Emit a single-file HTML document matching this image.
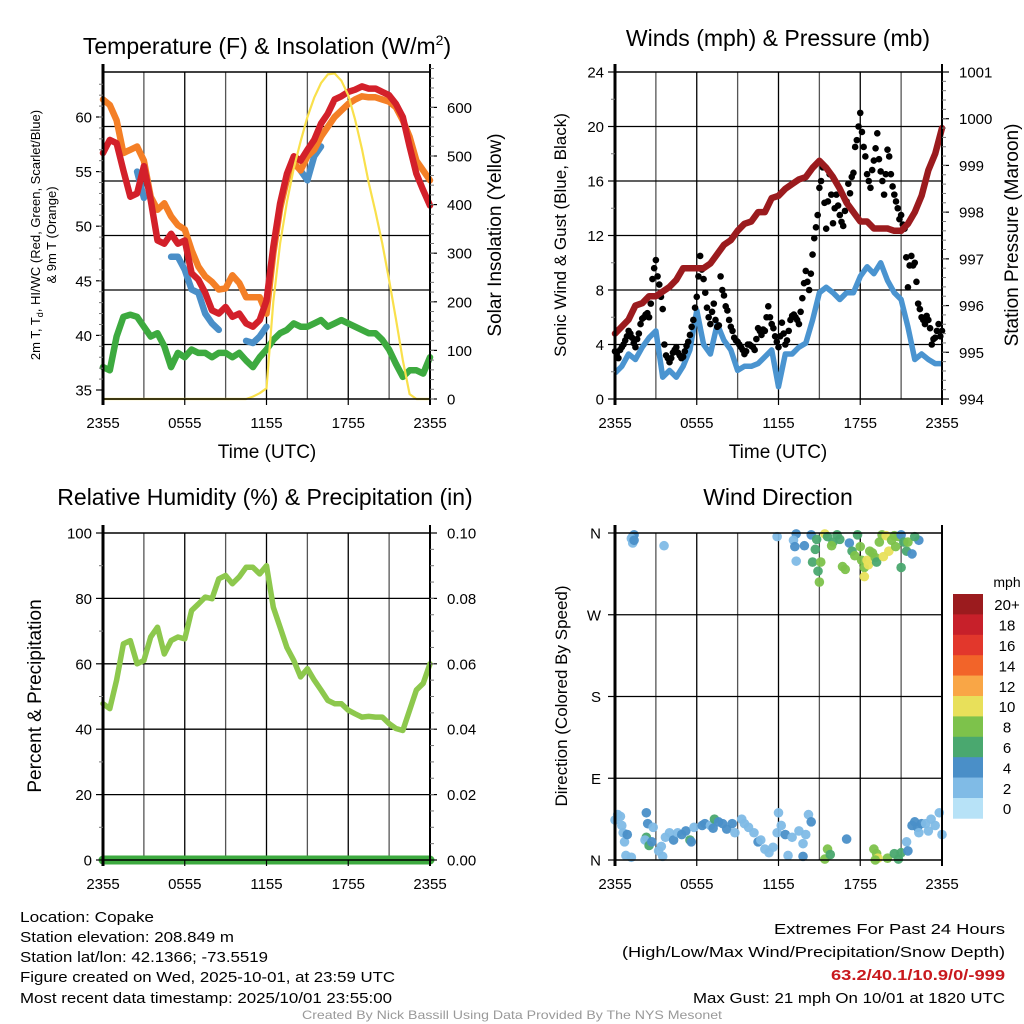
<!DOCTYPE html>
<html><head><meta charset="utf-8">
<style>
html,body{margin:0;padding:0;background:#fff;}
svg{display:block;font-family:"Liberation Sans",Arial,sans-serif;}
</style></head>
<body>
<svg id="fig" width="1024" height="1024" viewBox="0 0 1024 1024" xmlns="http://www.w3.org/2000/svg">
<rect width="1024" height="1024" fill="#fff"/>
<g id="p1"></g>
<g id="p2"></g>
<g id="p3"></g>
<g id="p4"></g>

<text x="267" y="54" font-size="23" text-anchor="middle">Temperature (F) &amp; Insolation (W/m<tspan font-size="14" dy="-9">2</tspan><tspan dy="9">)</tspan></text>
<text x="778" y="46" font-size="23" text-anchor="middle">Winds (mph) &amp; Pressure (mb)</text>
<text x="265" y="505" font-size="23" text-anchor="middle">Relative Humidity (%) &amp; Precipitation (in)</text>
<text x="778" y="505" font-size="23" text-anchor="middle">Wind Direction</text>

<text x="267" y="458" font-size="19" text-anchor="middle">Time (UTC)</text>
<text x="778" y="458" font-size="19" text-anchor="middle">Time (UTC)</text>

<g transform="translate(43,235) rotate(-90)" font-size="13" text-anchor="middle">
<text x="0" y="-3">2m T, T<tspan font-size="9" dy="3">d</tspan><tspan dy="-3">, HI/WC (Red, Green, Scarlet/Blue)</tspan></text>
<text x="0" y="13">&amp; 9m T (Orange)</text>
</g>
<text transform="translate(501,235) rotate(-90)" font-size="19" text-anchor="middle">Solar Insolation (Yellow)</text>
<text transform="translate(566,235) rotate(-90)" font-size="17" text-anchor="middle">Sonic Wind &amp; Gust (Blue, Black)</text>
<text transform="translate(1018,235) rotate(-90)" font-size="19" text-anchor="middle">Station Pressure (Maroon)</text>
<text transform="translate(41,696) rotate(-90)" font-size="19" text-anchor="middle">Percent &amp; Precipitation</text>
<text transform="translate(567,696) rotate(-90)" font-size="17" text-anchor="middle">Direction (Colored By Speed)</text>

<g font-size="15">
<text x="20" y="922" textLength="134" lengthAdjust="spacingAndGlyphs">Location: Copake</text>
<text x="20" y="942" textLength="214" lengthAdjust="spacingAndGlyphs">Station elevation: 208.849 m</text>
<text x="20" y="962" textLength="248" lengthAdjust="spacingAndGlyphs">Station lat/lon: 42.1366; -73.5519</text>
<text x="20" y="982" textLength="375" lengthAdjust="spacingAndGlyphs">Figure created on Wed, 2025-10-01, at 23:59 UTC</text>
<text x="20" y="1003" textLength="372" lengthAdjust="spacingAndGlyphs">Most recent data timestamp: 2025/10/01 23:55:00</text>
</g>
<g font-size="15" text-anchor="end">
<text x="1005" y="934" textLength="231" lengthAdjust="spacingAndGlyphs">Extremes For Past 24 Hours</text>
<text x="1005" y="957" textLength="383" lengthAdjust="spacingAndGlyphs">(High/Low/Max Wind/Precipitation/Snow Depth)</text>
<text x="1005" y="980" fill="#c8191e" font-weight="bold" textLength="174" lengthAdjust="spacingAndGlyphs">63.2/40.1/10.9/0/-999</text>
<text x="1005" y="1003" textLength="312" lengthAdjust="spacingAndGlyphs">Max Gust: 21 mph On 10/01 at 1820 UTC</text>
</g>
<text x="512" y="1019" font-size="12" fill="#999" text-anchor="middle" textLength="420" lengthAdjust="spacingAndGlyphs">Created By Nick Bassill Using Data Provided By The NYS Mesonet</text>
</svg>
<script>
// ---------- data (half-hour steps from 2355 UTC, 49 values) ----------
var xTickLabels = ["2355","0555","1155","1755","2355"];
var temp2m = [56.7,57.9,57.6,55.1,52.7,53.0,55.5,52.4,48.7,48.4,49.3,48.4,48.7,45.7,45.1,43.9,42.3,42.0,42.6,41.7,42.0,41.1,40.8,41.4,43.2,48.1,52.1,54.8,56.4,56.0,57.0,57.9,59.4,60.3,61.6,61.9,62.3,62.5,62.8,62.6,62.6,62.3,62.0,61.2,60.0,57.3,54.8,53.3,51.9];
var temp9m = [61.6,61.1,59.7,56.7,57.0,57.3,56.0,52.7,51.5,52.1,50.9,50.1,49.7,47.8,46.3,45.4,44.9,44.2,44.3,45.5,44.8,43.5,43.5,43.5,42.0,47.5,51.6,54.3,55.8,55.1,56.4,57.0,58.2,59.1,60.0,60.6,61.2,61.6,61.9,61.8,61.8,61.6,61.4,60.9,59.7,58.2,56.0,55.1,54.2];
var heatWind = [null,null,null,null,null,55.0,52.6,null,null,null,47.2,47.2,46.0,44.2,43.9,42.0,41.1,40.5,null,null,null,39.5,39.3,39.9,40.8,null,null,null,null,55.1,54.2,56.4,57.3,null,null,null,null,null,null,null,null,null,null,null,null,null,null,null,null];
var dewpoint = [37.1,36.8,39.9,41.7,41.9,41.7,40.8,39.9,40.2,39.0,37.1,38.4,38.0,38.7,38.4,38.4,38.0,38.4,38.4,38.0,38.4,37.7,37.1,38.0,38.7,39.6,40.2,40.5,41.1,40.8,40.8,41.1,41.4,40.8,41.1,41.4,41.1,40.8,40.5,40.2,40.2,39.6,38.7,37.4,36.2,36.8,36.8,36.5,38.0];
var insolation = [0,0,0,0,0,0,0,0,0,0,0,0,0,0,0,0,0,0,0,0,0,0,5,12,22,200,320,405,475,530,580,620,650,668,670,655,625,575,515,445,385,320,245,165,80,10,0,0,0];
var sonicWind = [1.9,2.4,3.3,2.9,3.8,4.5,5.0,1.6,2.1,1.6,2.4,3.6,6.5,4.0,3.3,5.5,4.3,3.6,2.1,2.4,2.4,2.6,3.1,3.6,0.9,3.3,3.3,3.8,4.1,5.8,7.8,8.2,7.8,7.3,7.8,7.8,9.0,9.7,9.2,10.0,8.7,7.8,7.3,5.3,2.9,3.3,2.9,2.6,2.6];
var pressure = [995.4,995.55,995.7,996.0,996.05,996.2,996.2,996.3,996.4,996.55,996.8,996.8,996.8,996.8,996.9,997.1,997.3,997.4,997.6,997.75,997.8,998.0,998.0,998.3,998.35,998.5,998.6,998.7,998.75,998.95,999.1,998.95,998.75,998.5,998.2,998.0,997.8,997.8,997.65,997.65,997.65,997.6,997.6,997.75,998.0,998.35,998.9,999.25,999.8];
var humidity = [47.8,46.3,55.0,66.1,67.1,60.0,61.0,68.2,71.2,63.0,67.1,68.2,67.6,76.3,78.3,80.4,79.9,86.0,87.0,84.5,86.6,89.5,89.5,87.5,90.0,77.3,71.2,65.0,61.0,56.0,58.5,55.0,52.0,48.8,47.8,47.8,45.8,44.7,43.7,43.9,43.7,43.7,41.7,40.2,39.6,45.8,52.0,54.0,60.0];
var precip = [0,0,0,0,0,0,0,0,0,0,0,0,0,0,0,0,0,0,0,0,0,0,0,0,0,0,0,0,0,0,0,0,0,0,0,0,0,0,0,0,0,0,0,0,0,0,0,0,0];
// gusts, quarter-hour steps (97 values)
var gusts = [3.5,3.0,3.8,4.3, 5.0,4.5,3.8,4.8, 5.9,6.2,6.0,8.8, 10.2,8.4,6.6,3.2, 2.7,3.4,3.8,3.2, 3.1,3.9,4.7,5.8, 7.5,10.5,8.8,6.7, 5.5,7.0,5.3,9.0, 7.6,6.5,5.3,4.5, 4.2,3.8,3.3,4.0, 3.9,3.6,5.2,4.7, 5.0,6.8,5.5,4.6, 3.8,5.6,4.0,5.0, 6.1,6.0,5.5,7.4, 9.4,8.0,10.6,12.6, 15.5,17.0,12.5,16.5, 12.9,15.0,13.5,12.7, 14.5,15.1,16.6,19.0, 21.0,18.5,16.5,15.5, 17.5,19.5,16.7,15.0, 18.3,16.5,15.0,14.0, 13.5,12.5,8.2,10.5, 10.0,7.0,6.0,5.5, 5.8,4.0,4.5,5.5, 5.0];
// gusts offset by 7.5 minutes (96 values)
var gusts2 = [3.3,3.6,4.0,4.6, 4.8,4.1,4.4,5.5, 6.0,6.3,7.0,9.6, 9.0,7.5,4.0,3.0, 3.0,3.6,3.4,3.0, 3.5,4.2,5.3,6.7, 9.0,9.5,7.8,6.0, 6.4,5.8,5.4,8.0, 6.8,5.8,5.0,4.3, 4.0,3.6,3.5,4.0, 3.8,4.4,5.0,5.1, 6.0,6.0,5.2,4.2, 4.6,4.8,4.3,5.8, 6.2,5.8,6.4,8.5, 8.6,9.2,11.8,13.5, 16.0,14.4,14.5,15.0, 14.0,14.2,13.0,13.8, 15.8,16.3,18.5,20.0, 19.6,17.8,16.0,16.8, 18.4,17.6,16.0,16.5, 17.8,15.6,14.5,13.2, 12.8,10.4,9.8,9.8, 8.6,6.6,5.8,6.1, 5.2,4.4,5.0,4.6];
// wind direction observations
var dirTimes = [0,0.2,0.4,0.5,0.6,0.7,0.8,1.2,0.9,2.3,2.4,2.3,2.2,2.5,2.7,2.8,3.2,3.5,3.4,3.7,4.0,4.3,4.6,4.9,5.2,5.5,5.8,5.6,6.4,6.6,7.0,7.3,7.2,7.6,7.9,8.2,8.6,8.8,9.3,9.5,9.8,10.2,10.5,10.7,11.0,11.3,11.6,11.9,12.0,12.2,12.5,12.7,13.0,13.5,13.8,14.0,14.2,14.4,13.8,15.4,15.6,15.8,17.0,19.0,19.2,19.3,19.1,20.0,20.5,20.8,21.0,21.4,21.5,21.8,22.0,22.2,22.5,22.8,23.2,23.5,23.8,24,22.3,23.0,
1.3,1.4,1.2,1.3,1.4,3.6,11.9,13.3,13.1,13.2,13.9,13.3,14.4,14.8,14.7,14.5,14.9,15.0,15.1,15.4,15.6,16.0,15.9,16.3,16.5,16.7,16.9,17.2,17.4,17.8,17.6,18.0,18.1,18.3,18.5,18.3,18.6,18.7,18.9,19.1,19.2,19.4,19.6,19.9,19.7,20.1,20.3,20.5,20.8,20.6,21.0,21.2,21.4,21.5,21.0,21.8,22.3,22.0];
var dirDegrees = [44,50,48,38,30,20,5,3,28,52,40,25,22,16,20,36,10,4,15,25,30,22,30,28,32,22,36,20,38,40,38,45,35,42,40,34,40,30,45,40,36,30,20,22,12,8,14,30,52,38,28,5,25,32,18,28,50,42,4,1,12,6,23,12,7,2,0,2,7,1,8,20,10,38,42,36,40,40,45,38,52,28,30,32,
356,358,354,349,352,346,356,359,352,345,346,329,358,353,342,328,318,306,328,359,356,350,346,358,353,323,320,349,340,358,335,345,330,322,330,312,325,340,338,333,328,350,358,357,334,340,352,357,356,345,358,350,340,350,322,337,352,356];
var dirSpeeds = [2,2,2,2,2,2,2,2,4,4,4,6,2,6,4,2,2,2,2,2,2,4,2,4,4,6,2,4,4,4,2,6,4,4,4,4,4,2,2,2,2,2,4,2,2,2,2,2,2,2,4,2,2,2,2,2,2,4,4,8,8,6,4,8,8,10,8,8,6,6,6,2,4,4,4,4,4,2,2,2,2,2,2,2,
4,4,2,2,4,2,2,4,2,4,4,2,4,6,6,6,6,8,8,10,6,6,8,6,6,8,8,4,6,6,8,8,8,8,10,10,10,8,8,8,6,8,8,10,10,10,8,8,8,8,4,6,6,8,6,4,4,6];
var cbLabels = ["0","2","4","6","8","10","12","14","16","18","20+"];
var cbColors = ["#b7e2f7","#80bbe6","#4a8fc8","#4aa86f","#7dc24b","#e8e05a","#f9a646","#f26429","#e2372c","#c7202a","#9b1b1e"];

// ---------- helpers ----------
var NS = "http://www.w3.org/2000/svg";
function mk(parent, tag, attrs){ var e=document.createElementNS(NS,tag); for(var k in attrs) e.setAttribute(k,attrs[k]); parent.appendChild(e); return e; }
function lin(d0,d1,r0,r1){ return function(v){ return r0+(v-d0)*(r1-r0)/(d1-d0); }; }
function pathFrom(vals, step, xs, ys){
  var d="", pen=false;
  for(var i=0;i<vals.length;i++){ var v=vals[i]; if(v===null){pen=false;continue;}
    d += (pen?"L":"M")+xs(i*step).toFixed(1)+","+ys(v).toFixed(1); pen=true; }
  return d;
}
function frame(g, L, T, R, B, nx, ny){
  for(var i=1;i<nx;i++){ var x=L+(R-L)*i/nx;
    var l=mk(g,"line",{x1:x,y1:T,x2:x,y2:B,stroke:(i%2?"#555":"#000"),"stroke-width":1.3});
      }
  for(var j=1;j<ny;j++){ var y=T+(B-T)*j/ny;
    var l2=mk(g,"line",{x1:L,y1:y,x2:R,y2:y,stroke:"#000","stroke-width":1.3});
      }
}
function border(g,L,T,R,B){
  var r=mk(g,"rect",{x:L,y:T,width:R-L,height:B-T,fill:"none",stroke:"#000","stroke-width":1.5});
   
  mk(g,"line",{x1:L,y1:T-8,x2:L,y2:B+6,stroke:"#000","stroke-width":3});
  mk(g,"line",{x1:R,y1:T-8,x2:R,y2:B+6,stroke:"#000","stroke-width":2});
}
function xAxis(g,L,R,B,xs){
  for(var i=0;i<xTickLabels.length;i++){ var x=xs(i*6);
    mk(g,"line",{x1:x,y1:B,x2:x,y2:B+6,stroke:"#000","stroke-width":1.2});
    var t=mk(g,"text",{x:x,y:B+29,"font-size":15,"text-anchor":"middle"}); t.textContent=xTickLabels[i];
      }
}
function yTicks(g, side, axisX, ys, vals, fmt, minorVals){
  for(var i=0;i<vals.length;i++){ var y=ys(vals[i]);
    mk(g,"line",{x1:axisX,y1:y,x2:axisX+(side<0?-7:7),y2:y,stroke:"#000","stroke-width":1.2});
    var t=mk(g,"text",{x:axisX+(side<0?-11:17),y:y+5.5,"font-size":15,"text-anchor":(side<0?"end":"start")});
    t.textContent=fmt(vals[i]);
      }
  if(minorVals) for(var k=0;k<minorVals.length;k++){ var ym=ys(minorVals[k]);
    mk(g,"line",{x1:axisX,y1:ym,x2:axisX+(side<0?-4:4),y2:ym,stroke:"#777","stroke-width":1}); }
}
function range(a,b,s){ var r=[]; for(var v=a; v<=b+1e-9; v+=s) r.push(+v.toFixed(4)); return r; }

// ---------- panel 1 ----------
(function(){
  var g=document.getElementById("p1"), L=103,R=430,T=72,B=399;
  var xs=lin(0,24,L,R), ys=lin(35,60,390,117), yr=lin(0,600,399,107.4);
  frame(g,L,T,R,B,8,6);
  var series=[[dewpoint,"#3daa3f","dewpoint-line"],[heatWind,"#4a8fc8","heat-index-windchill-line"],[temp9m,"#f47f26","temp-9m-line"],[temp2m,"#d3202a","temp-2m-line"]];
  series.forEach(function(s){ var p=mk(g,"path",{d:pathFrom(s[0],0.5,xs,ys),fill:"none",stroke:s[1],"stroke-width":6.5,"stroke-linejoin":"round","stroke-linecap":"round"});
      });
  var ins2=mk(g,"path",{d:pathFrom(insolation,0.5,xs,yr),fill:"none",stroke:"#f9e04b","stroke-width":2.2,"stroke-linejoin":"round"});
   
  border(g,L,T,R,B);
  yTicks(g,-1,L,ys,[35,40,45,50,55,60],function(v){return v;},range(36,63,1));
  yTicks(g,1,R,yr,[0,100,200,300,400,500,600],function(v){return v;},range(0,680,20));
  xAxis(g,L,R,B,xs);
})();

// ---------- panel 2 ----------
(function(){
  var g=document.getElementById("p2"), L=615,R=942,T=72,B=399;
  var xs=lin(0,24,L,R), ys=lin(0,24,399,72), yr=lin(994,1001,399,72);
  frame(g,L,T,R,B,8,6);
  var w=mk(g,"path",{d:pathFrom(sonicWind,0.5,xs,ys),fill:"none",stroke:"#4a94d0","stroke-width":5.5,"stroke-linejoin":"round"});
   
  for(var i=0;i<gusts.length;i++){
    var c=mk(g,"circle",{cx:xs(i*0.25),cy:ys(gusts[i]),r:3.3,fill:"#000"});
     
  }
  for(var j=0;j<gusts2.length;j++){
    var c2=mk(g,"circle",{cx:xs(j*0.25+0.125),cy:ys(gusts2[j]),r:3.3,fill:"#000"});
     
  }
  var p=mk(g,"path",{d:pathFrom(pressure,0.5,xs,yr),fill:"none",stroke:"#9b1b1e","stroke-width":6.5,"stroke-linejoin":"round","stroke-linecap":"round"});
   
  border(g,L,T,R,B);
  yTicks(g,-1,L,ys,[0,4,8,12,16,20,24],function(v){return v;},range(2,22,4));
  yTicks(g,1,R,yr,[994,995,996,997,998,999,1000,1001],function(v){return v;},range(994.2,1000.8,0.2));
  xAxis(g,L,R,B,xs);
})();

// ---------- panel 3 ----------
(function(){
  var g=document.getElementById("p3"), L=103,R=430,T=533,B=860;
  var xs=lin(0,24,L,R), ys=lin(0,100,860,533), yr=lin(0,0.10,860,533);
  frame(g,L,T,R,B,8,5);
  var h=mk(g,"path",{d:pathFrom(humidity,0.5,xs,ys),fill:"none",stroke:"#8dc84d","stroke-width":5.5,"stroke-linejoin":"round","stroke-linecap":"round"});
   
  var pr=mk(g,"path",{d:pathFrom(precip,0.5,xs,yr),fill:"none",stroke:"#3daa3f","stroke-width":9,"stroke-linecap":"round"});
   
  border(g,L,T,R,B);
  yTicks(g,-1,L,ys,[0,20,40,60,80,100],function(v){return v;},range(10,90,20));
  yTicks(g,1,R,yr,[0,0.02,0.04,0.06,0.08,0.10],function(v){return v.toFixed(2);},range(0.005,0.095,0.005));
  xAxis(g,L,R,B,xs);
})();

// ---------- panel 4 ----------
(function(){
  var g=document.getElementById("p4"), L=615,R=942,T=533,B=860;
  var xs=lin(0,24,L,R), ys=lin(0,360,860,533);
  frame(g,L,T,R,B,8,4);
  for(var i=0;i<dirTimes.length;i++){
    var idx=Math.min(10,Math.floor(dirSpeeds[i]/2));
    var c=mk(g,"circle",{cx:xs(dirTimes[i]),cy:ys(dirDegrees[i]),r:4.8,fill:cbColors[idx],"fill-opacity":0.95});
     
  }
  border(g,L,T,R,B);
  var dl=["N","E","S","W","N"];
  for(var k=0;k<5;k++){ var y=ys(k*90);
    mk(g,"line",{x1:L,y1:y,x2:L-7,y2:y,stroke:"#000","stroke-width":1.2});
    var t=mk(g,"text",{x:L-14,y:y+5.5,"font-size":15,"text-anchor":"end"}); t.textContent=dl[k];
      }
  xAxis(g,L,R,B,xs);
  var cb=mk(g,"g",{});  
  var top=594, bh=20.4;
  for(var j=0;j<11;j++){ var ci=10-j;
    var r=mk(cb,"rect",{x:953,y:top+j*bh,width:30,height:bh+0.3,fill:cbColors[ci]});
     
    var tl=mk(cb,"text",{x:1007,y:top+j*bh+bh/2+6,"font-size":15,"text-anchor":"middle"}); tl.textContent=cbLabels[ci];
      }
  var u=mk(cb,"text",{x:1007,y:587,"font-size":14,"text-anchor":"middle"}); u.textContent="mph";
   
})();
</script>
</body></html>
